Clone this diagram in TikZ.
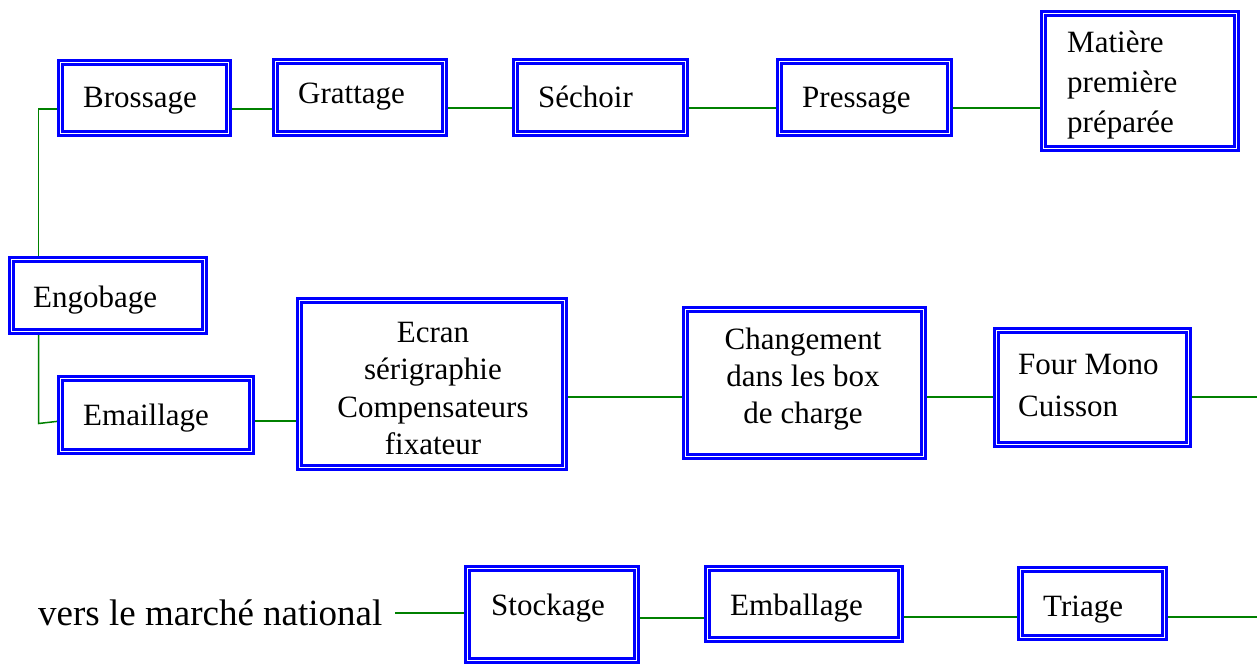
\documentclass[tikz,border=0pt]{standalone}
\usepackage{fontspec}
\setmainfont{Liberation Serif}
\usetikzlibrary{calc,backgrounds}
\definecolor{boxblue}{RGB}{0,0,255}
\definecolor{linkgreen}{RGB}{0,128,0}
\tikzset{
  box/.style={draw=boxblue, line width=2.6pt, double=white, double distance=1.8pt,
    fill=white, inner sep=0pt, outer sep=0pt},
  bsize/.style 2 args={minimum width={#1-7}, minimum height={#2-7}},
  lbl/.style={inner sep=0pt, font=\fontsize{31}{37}\selectfont},
  big/.style={inner sep=0pt, font=\fontsize{37}{44}\selectfont},
  link/.style={draw=linkgreen, line width=1.5pt},
}
\begin{document}
\begin{tikzpicture}[x=1pt,y=-1pt]
\useasboundingbox (0,0) rectangle (1257,666);
% boxes (outer sizes)
\node[box, bsize={175}{78}] (brossage) at (144.5,98) {};
\node[box, bsize={176}{79}] (grattage) at (360,97.5) {};
\node[box, bsize={177}{79}] (sechoir) at (600.5,97.5) {};
\node[box, bsize={177}{79}] (pressage) at (864.5,97.5) {};
\node[box, bsize={200}{142}] (matiere) at (1140,81) {};
\node[box, bsize={200}{79}] (engobage) at (108,295.5) {};
\node[box, bsize={198}{80}] (emaillage) at (156,415) {};
\node[box, bsize={272}{174}] (ecran) at (432,384) {};
\node[box, bsize={245}{154}] (changement) at (804.5,383) {};
\node[box, bsize={199}{121}] (four) at (1092.5,387.5) {};
\node[box, bsize={176}{99}] (stockage) at (552,614.5) {};
\node[box, bsize={200}{78}] (emballage) at (804,604) {};
\node[box, bsize={151}{75}] (triage) at (1092.5,603.5) {};
% texts
\node[lbl, anchor=base west] (tbro) at (83,107) {Brossage};
\node[lbl, anchor=base west] (tgra) at (298,103) {Grattage};
\node[lbl, anchor=base west] (tsec) at (538,107) {Séchoir};
\node[lbl, anchor=base west] (tpre) at (802,107) {Pressage};
\node[lbl, anchor=base west] (tmat1) at (1067,53) {Matière};
\node[lbl, anchor=base west] (tmat2) at (1067,93) {première};
\node[lbl, anchor=base west] (tmat3) at (1067,132) {préparée};
\node[lbl, anchor=base west] (teng) at (33,307) {Engobage};
\node[lbl, anchor=base west] (tema) at (83,425) {Emaillage};
\node[lbl, anchor=base] (tecr1) at (433,342) {Ecran};
\node[lbl, anchor=base] (tecr2) at (433,379.5) {sérigraphie};
\node[lbl, anchor=base] (tecr3) at (433,417) {Compensateurs};
\node[lbl, anchor=base] (tecr4) at (433,454.5) {fixateur};
\node[lbl, anchor=base] (tcha1) at (803,349) {Changement};
\node[lbl, anchor=base] (tcha2) at (803,386) {dans les box};
\node[lbl, anchor=base] (tcha3) at (803,423) {de charge};
\node[lbl, anchor=base west] (tfou1) at (1018,374) {Four Mono};
\node[lbl, anchor=base west] (tfou2) at (1018,416) {Cuisson};
\node[lbl, anchor=base west] (tsto) at (491,615) {Stockage};
\node[lbl, anchor=base west] (temb) at (730,615) {Emballage};
\node[lbl, anchor=base west] (ttri) at (1043,616) {Triage};
\node[big, anchor=base west] (vers) at (38,625) {vers le marché national};
% free ends
\coordinate (outA) at (1257,397);
\coordinate (outB) at (1257,617);
\coordinate (versend) at (395,613);
\begin{scope}[on background layer]
\draw[link] (matiere.west |- 0,108) -- (pressage.east |- 0,108);
\draw[link] (pressage.west |- 0,108) -- (sechoir.east |- 0,108);
\draw[link] (sechoir.west |- 0,108) -- (grattage.east |- 0,108);
\draw[link] (grattage.west |- 0,109) -- (brossage.east |- 0,109);
\draw[link] (brossage.west |- 0,109) -| ($(engobage.north west)!0.14!(engobage.north east)$);
\draw[link] ($(engobage.south west)!0.14!(engobage.south east)$) -- ++(0,92) -- (emaillage.west |- 0,421);
\draw[link] (emaillage.east |- 0,421) -- (ecran.west |- 0,421);
\draw[link] (ecran.east |- 0,397) -- (changement.west |- 0,397);
\draw[link] (changement.east |- 0,397) -- (four.west |- 0,397);
\draw[link] (four.east |- 0,397) -- (outA);
\draw[link] (outB) -- (triage.east |- 0,617);
\draw[link] (triage.west |- 0,617) -- (emballage.east |- 0,617);
\draw[link] (emballage.west |- 0,618) -- (stockage.east |- 0,618);
\draw[link] (stockage.west |- 0,613) -- (versend);
\end{scope}
\end{tikzpicture}
\end{document}
